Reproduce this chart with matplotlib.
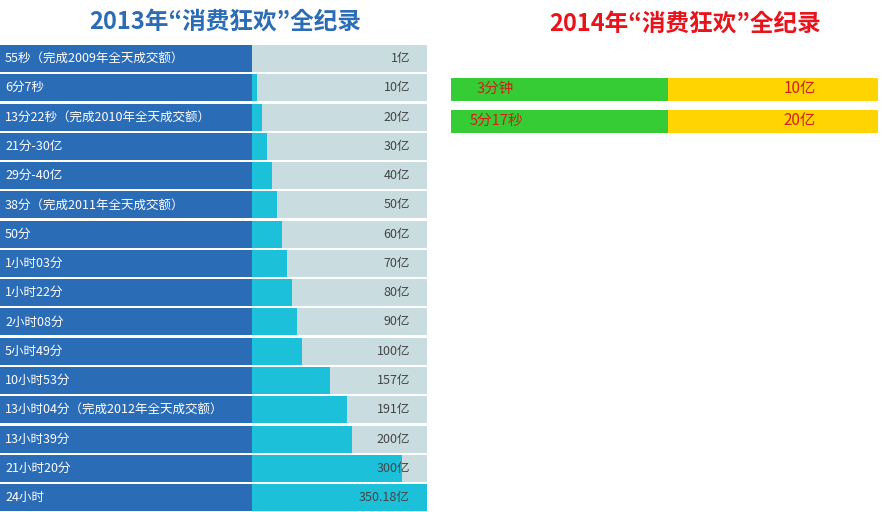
import matplotlib.pyplot as plt
from matplotlib import font_manager

cjk = [f.name for f in font_manager.fontManager.ttflist if "CJK" in f.name or "Noto Sans SC" in f.name]
plt.rcParams["font.family"] = sorted(set(cjk)) + ["DejaVu Sans"]

labels_2013 = ["55秒（完成2009年全天成交额）", "6分7秒", "13分22秒（完成2010年全天成交额）",
               "21分-30亿", "29分-40亿", "38分（完成2011年全天成交额）", "50分", "1小时03分",
               "1小时22分", "2小时08分", "5小时49分", "10小时53分",
               "13小时04分（完成2012年全天成交额）", "13小时39分", "21小时20分", "24小时"]
values_2013 = [1, 10, 20, 30, 40, 50, 60, 70, 80, 90, 100, 157, 191, 200, 300, 350.18]
value_text_2013 = ["1亿", "10亿", "20亿", "30亿", "40亿", "50亿", "60亿", "70亿", "80亿", "90亿",
                   "100亿", "157亿", "191亿", "200亿", "300亿", "350.18亿"]

labels_2014 = ["3分钟", "5分17秒"]
value_text_2014 = ["10亿", "20亿"]

fig = plt.figure(figsize=(8.82, 5.12), dpi=100)
ax = fig.add_axes([0, 0, 1, 1])
ax.set_xlim(0, 882)
ax.set_ylim(512, 0)
ax.axis("off")

pitch = 29.27
y0 = 58.5
h = 27
x_lab, w_lab = 0, 252
w_full = 175
for i, (lab, v, vt) in enumerate(zip(labels_2013, values_2013, value_text_2013)):
    y = y0 + i * pitch
    ax.barh(y, w_full, left=w_lab, height=h, color="#c9dde1")
    ax.barh(y, w_full * v / max(values_2013), left=w_lab, height=h, color="#1cc1d9")
    ax.barh(y, w_lab, left=x_lab, height=h, color="#2b6cb6")
    ax.text(5, y, lab, color="white", fontsize=9, va="center")
    ax.text(410, y, vt, color="#444444", fontsize=9, va="center", ha="right")

ax.text(225, 22, "2013年“消费狂欢”全纪录", color="#2b6cb6", fontsize=17,
        fontweight="bold", ha="center", va="center")
ax.text(685, 24, "2014年“消费狂欢”全纪录", color="#e8141b", fontsize=17,
        fontweight="bold", ha="center", va="center")

for i, (lab, vt) in enumerate(zip(labels_2014, value_text_2014)):
    y = 89 + i * 32
    ax.barh(y, 217, left=451, height=23, color="#35cc35")
    ax.barh(y, 210, left=668, height=23, color="#ffd400")
    ax.text(495 if i == 0 else 470, y, lab, color="#d0201a", fontsize=10.5, va="center",
            ha="center" if i == 0 else "left")
    ax.text(800, y, vt, color="#d0201a", fontsize=11, va="center", ha="center")

fig.savefig("out.png", dpi=100)
